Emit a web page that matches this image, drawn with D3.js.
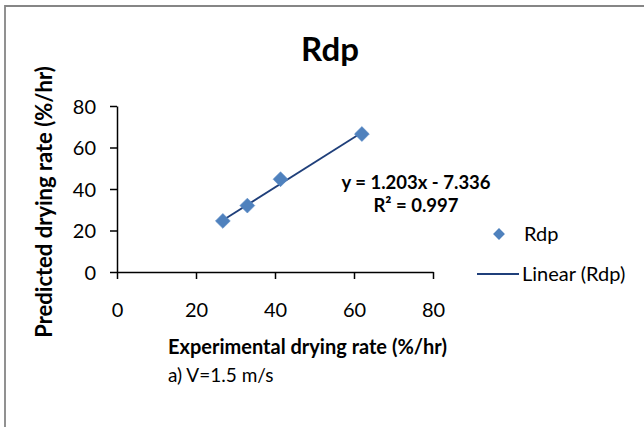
<!DOCTYPE html>
<html>
<head>
<meta charset="utf-8">
<script src="https://cdn.jsdelivr.net/npm/d3@7"></script>
<style>
  html, body { margin: 0; padding: 0; background: #fff; }
  svg { display: block; }
  text { font-family: Lato, "Open Sans", sans-serif; fill: #000; }
</style>
</head>
<body>
<svg id="chart" width="644" height="427"></svg>
<script>
// Experimental vs predicted drying rate (%/hr)
const experimental = [26.8, 33.0, 41.4, 62.0];
const predicted = [24.6, 32.0, 44.7, 66.5];
const seriesName = "Rdp";
const xTicks = [0, 20, 40, 60, 80];
const yTicks = [0, 20, 40, 60, 80];
// Linear trendline fitted to the series
const slope = 1.203;
const intercept = -7.336;
const rSquared = 0.997;

const svg = d3.select("#chart");
const W = 644, H = 427;

// chart frame
svg.append("path")
  .attr("d", `M5,${H} L5,6 L${W},6`)
  .attr("fill", "none")
  .attr("stroke", "#868686")
  .attr("stroke-width", 1.8);

const x = d3.scaleLinear().domain([0, 80]).range([117, 433]);
const y = d3.scaleLinear().domain([0, 80]).range([272, 106]);

// title
svg.append("text")
  .attr("x", 330).attr("y", 61)
  .attr("text-anchor", "middle")
  .attr("font-size", 33).attr("font-weight", "bold")
  .text(seriesName);

// axes
const xAxis = svg.append("g")
  .attr("transform", `translate(0,${y(0)})`)
  .call(d3.axisBottom(x).tickValues(xTicks).tickSize(7).tickSizeOuter(0).tickPadding(38));
const yAxis = svg.append("g")
  .attr("transform", `translate(${x(0)},0)`)
  .call(d3.axisLeft(y).tickValues(yTicks).tickSize(7).tickSizeOuter(0).tickPadding(14));

[xAxis, yAxis].forEach(g => {
  g.selectAll(".domain, line").attr("stroke", "#000").attr("stroke-width", 1.5);
  g.selectAll("text")
    .attr("font-family", "Lato, sans-serif")
    .attr("font-size", 20)
    .attr("fill", "#111");
});
xAxis.selectAll("text").attr("dy", "0");
yAxis.selectAll("text").attr("dy", "0.36em");

// trendline across the observed range
const xr = d3.extent(experimental);
svg.append("line")
  .attr("x1", x(xr[0])).attr("y1", y(slope * xr[0] + intercept))
  .attr("x2", x(xr[1])).attr("y2", y(slope * xr[1] + intercept))
  .attr("stroke", "#1F3F7A").attr("stroke-width", 1.8);

// points
const pts = experimental.map((v, i) => [v, predicted[i]]);
svg.append("g").selectAll("path")
  .data(pts)
  .join("path")
  .attr("d", d3.symbol().type(d3.symbolSquare).size(110))
  .attr("transform", d => `translate(${x(d[0])},${y(d[1])}) rotate(45)`)
  .attr("fill", "#4F81BD")
  .attr("stroke", "#5B8CC8").attr("stroke-width", 0.6);

// trendline equation, two separate lines
svg.append("text")
  .attr("x", 416).attr("y", 189)
  .attr("text-anchor", "middle")
  .attr("font-size", 18.5).attr("font-weight", "bold")
  .text(`y = ${slope}x - ${Math.abs(intercept)}`);
svg.append("text")
  .attr("x", 416).attr("y", 212)
  .attr("text-anchor", "middle")
  .attr("font-size", 18.5).attr("font-weight", "bold")
  .text(`R² = ${rSquared}`);

// legend
const lg = svg.append("g");
lg.append("path")
  .attr("d", d3.symbol().type(d3.symbolSquare).size(70))
  .attr("transform", "translate(499,234) rotate(45)")
  .attr("fill", "#4F81BD");
lg.append("text").attr("x", 524).attr("y", 241)
  .attr("font-size", 20).attr("fill", "#111").text(seriesName);
lg.append("line")
  .attr("x1", 477).attr("x2", 519).attr("y1", 274).attr("y2", 274)
  .attr("stroke", "#1F3F7A").attr("stroke-width", 1.8);
lg.append("text").attr("x", 522).attr("y", 281)
  .attr("font-size", 20).attr("fill", "#111").text(`Linear (${seriesName})`);

// axis titles
svg.append("text")
  .attr("x", 168).attr("y", 354)
  .attr("font-size", 20).attr("font-weight", "bold")
  .text("Experimental drying rate (%/hr)");
svg.append("text")
  .attr("x", 168).attr("y", 382)
  .attr("font-size", 19)
  .text("a) V=1.5 m/s");
svg.append("text")
  .attr("transform", "translate(52,202) rotate(-90)")
  .attr("text-anchor", "middle")
  .attr("font-size", 22).attr("font-weight", "bold")
  .text("Predicted drying rate (%/hr)");
</script>
</body>
</html>
